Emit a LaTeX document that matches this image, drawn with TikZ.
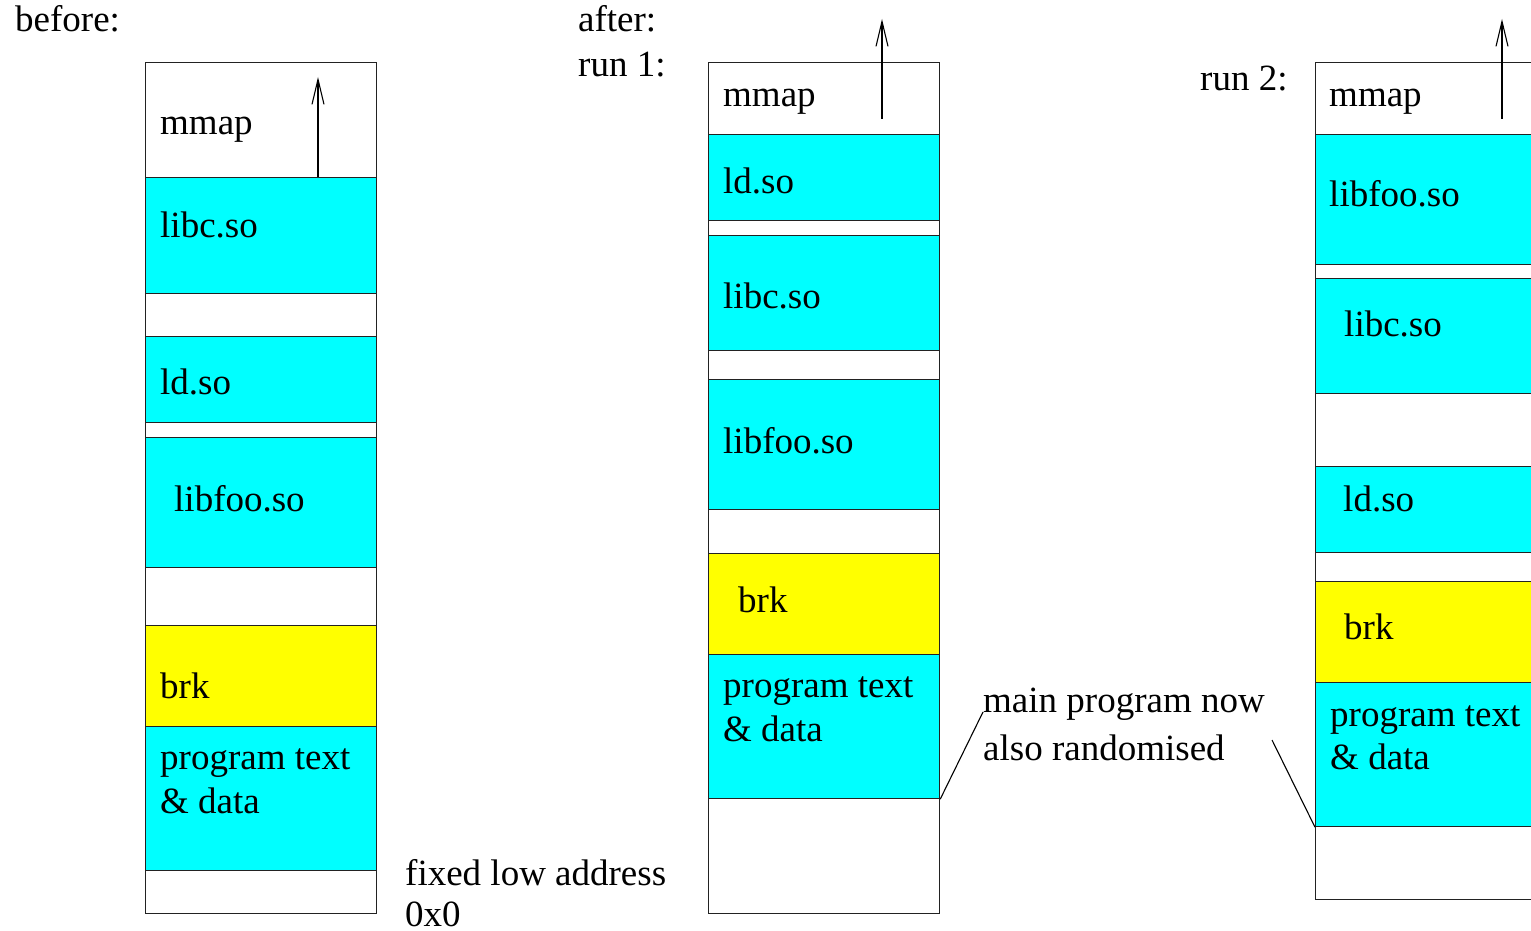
\documentclass[tikz,border=0pt]{standalone}
\usepackage{fontspec}
\setmainfont{Liberation Serif}
\usetikzlibrary{arrows.meta}
\definecolor{segcyan}{HTML}{00FFFF}
\definecolor{segyellow}{HTML}{FFFF00}
\definecolor{edge}{HTML}{222222}
\tikzset{
  seg/.style={draw=edge, line width=1.2pt, rectangle, inner sep=0pt, anchor=north west},
  lbl/.style={inner sep=0pt, anchor=base west, font=\fontsize{37}{44}\selectfont},
  growarrow/.style={draw=black, line width=1.1pt, -{Straight Barb[length=25pt,width=12pt,line width=1.1pt]}},
  pointer/.style={draw=black, line width=1.1pt}
}
\begin{document}
\begin{tikzpicture}[x=1pt,y=-1pt]
\useasboundingbox (0,0) rectangle (1531,931);
\clip (0,0) rectangle (1531,931);
% ---------- column 1: before ----------
\node[seg, fill=white,     minimum width=231pt, minimum height=115pt] (mmapA) at (145,62)  {};
\node[seg, fill=segcyan,   minimum width=231pt, minimum height=116pt] (libcA) at (145,177) {};
\node[seg, fill=white,     minimum width=231pt, minimum height=43pt]  (gapA1) at (145,293) {};
\node[seg, fill=segcyan,   minimum width=231pt, minimum height=86pt]  (ldA)   at (145,336) {};
\node[seg, fill=white,     minimum width=231pt, minimum height=15pt]  (gapA2) at (145,422) {};
\node[seg, fill=segcyan,   minimum width=231pt, minimum height=130pt] (fooA)  at (145,437) {};
\node[seg, fill=white,     minimum width=231pt, minimum height=58pt]  (gapA3) at (145,567) {};
\node[seg, fill=segyellow, minimum width=231pt, minimum height=101pt] (brkA)  at (145,625) {};
\node[seg, fill=segcyan,   minimum width=231pt, minimum height=144pt] (progA) at (145,726) {};
\node[seg, fill=white,     minimum width=231pt, minimum height=43pt]  (gapA4) at (145,870) {};
% ---------- column 2: run 1 ----------
\node[seg, fill=white,     minimum width=231pt, minimum height=72pt]  (mmapB) at (708,62)  {};
\node[seg, fill=segcyan,   minimum width=231pt, minimum height=86pt]  (ldB)   at (708,134) {};
\node[seg, fill=white,     minimum width=231pt, minimum height=15pt]  (gapB1) at (708,220) {};
\node[seg, fill=segcyan,   minimum width=231pt, minimum height=115pt] (libcB) at (708,235) {};
\node[seg, fill=white,     minimum width=231pt, minimum height=29pt]  (gapB2) at (708,350) {};
\node[seg, fill=segcyan,   minimum width=231pt, minimum height=130pt] (fooB)  at (708,379) {};
\node[seg, fill=white,     minimum width=231pt, minimum height=44pt]  (gapB3) at (708,509) {};
\node[seg, fill=segyellow, minimum width=231pt, minimum height=101pt] (brkB)  at (708,553) {};
\node[seg, fill=segcyan,   minimum width=231pt, minimum height=144pt] (progB) at (708,654) {};
\node[seg, fill=white,     minimum width=231pt, minimum height=115pt] (gapB4) at (708,798) {};
% ---------- column 3: run 2 ----------
\node[seg, fill=white,     minimum width=260pt, minimum height=72pt]  (mmapC) at (1315,62)  {};
\node[seg, fill=segcyan,   minimum width=260pt, minimum height=130pt] (fooC)  at (1315,134) {};
\node[seg, fill=white,     minimum width=260pt, minimum height=14pt]  (gapC1) at (1315,264) {};
\node[seg, fill=segcyan,   minimum width=260pt, minimum height=115pt] (libcC) at (1315,278) {};
\node[seg, fill=white,     minimum width=260pt, minimum height=73pt]  (gapC2) at (1315,393) {};
\node[seg, fill=segcyan,   minimum width=260pt, minimum height=86pt]  (ldC)   at (1315,466) {};
\node[seg, fill=white,     minimum width=260pt, minimum height=29pt]  (gapC3) at (1315,552) {};
\node[seg, fill=segyellow, minimum width=260pt, minimum height=101pt] (brkC)  at (1315,581) {};
\node[seg, fill=segcyan,   minimum width=260pt, minimum height=144pt] (progC) at (1315,682) {};
\node[seg, fill=white,     minimum width=260pt, minimum height=73pt]  (gapC4) at (1315,826) {};
% ---------- segment labels ----------
\node[lbl] (tmmapA) at (160,135) {mmap};
\node[lbl] (tlibcA) at (160,237) {libc.so};
\node[lbl] (tldA)   at (160,394) {ld.so};
\node[lbl] (tfooA)  at (174,511) {libfoo.so};
\node[lbl] (tbrkA)  at (160,698) {brk};
\node[lbl] (tprogA) at (160,769) {program text};
\node[lbl] (tdataA) at (160,813) {\& data};
\node[lbl] (tmmapB) at (723,107) {mmap};
\node[lbl] (tldB)   at (723,193) {ld.so};
\node[lbl] (tlibcB) at (723,308) {libc.so};
\node[lbl] (tfooB)  at (723,453) {libfoo.so};
\node[lbl] (tbrkB)  at (738,612) {brk};
\node[lbl] (tprogB) at (723,697) {program text};
\node[lbl] (tdataB) at (723,741) {\& data};
\node[lbl] (tmmapC) at (1329,107) {mmap};
\node[lbl] (tfooC)  at (1329,206) {libfoo.so};
\node[lbl] (tlibcC) at (1344,336) {libc.so};
\node[lbl] (tldC)   at (1343,511) {ld.so};
\node[lbl] (tbrkC)  at (1344,639) {brk};
\node[lbl] (tprogC) at (1330,726) {program text};
\node[lbl] (tdataC) at (1330,769) {\& data};
% ---------- other labels ----------
\node[lbl] (before) at (15,32)   {before:};
\node[lbl] (after)  at (578,32)  {after:};
\node[lbl] (runone) at (578,77)  {run 1:};
\node[lbl] (runtwo) at (1200,91) {run 2:};
\node[lbl] (fixed)  at (405,885) {fixed low address};
\node[lbl] (zero)   at (405,926) {0x0};
\node[lbl] (mainp)  at (983,712) {main program now};
\node[lbl] (alsor)  at (983,760) {also randomised};
% ---------- growth arrows ----------
\coordinate (arrAs) at (318,177);
\coordinate (arrAe) at (318,77);
\coordinate (arrBs) at (882,119);
\coordinate (arrBe) at (882,19);
\coordinate (arrCs) at (1502,119);
\coordinate (arrCe) at (1502,19);
\draw[growarrow] (arrAs) -- (arrAe);
\draw[growarrow] (arrBs) -- (arrBe);
\draw[growarrow] (arrCs) -- (arrCe);
% ---------- pointer lines ----------
\coordinate (ptrC) at (1272,740);
\draw[pointer] (progB.south east) -- (mainp.base west);
\draw[pointer] (ptrC) -- (progC.south west);
\end{tikzpicture}
\end{document}
